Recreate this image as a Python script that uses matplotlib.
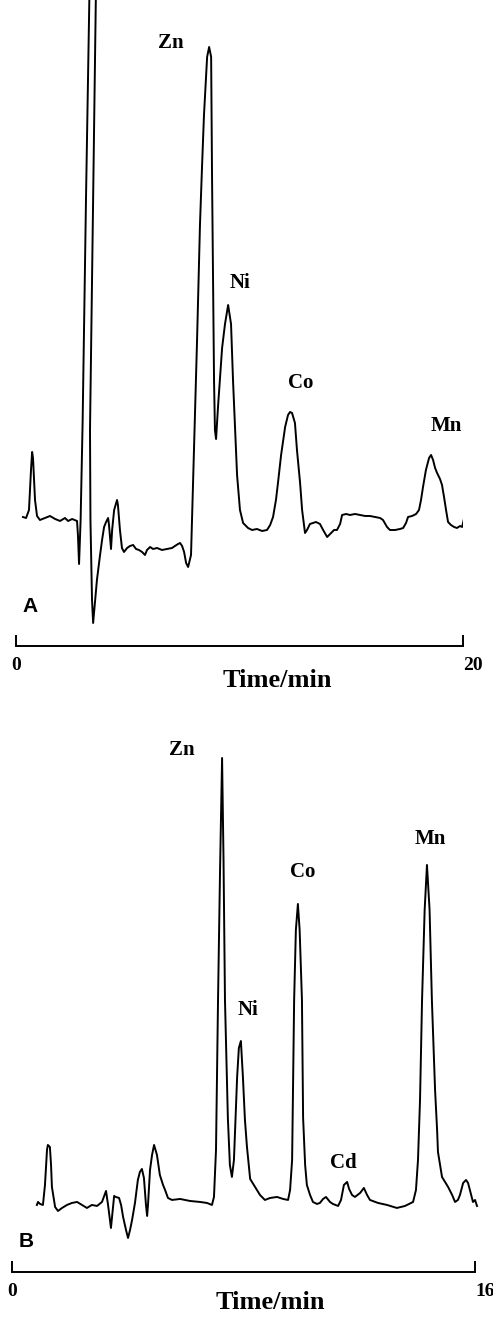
# Two ion chromatograms (A: 0-20 min, B: 0-16 min) with a time scale bar under each.
import matplotlib.pyplot as plt

plt.rcParams['font.family'] = ['Liberation Serif', 'DejaVu Serif']

# ---- chromatogram A: time (min) and detector response (arb. units)
time_a = [0.31, 0.45, 0.58, 0.67, 0.72, 0.76, 0.85, 0.94, 1.07, 1.30, 1.52, 1.75, 1.97,
          2.19, 2.33, 2.51, 2.73, 2.77, 2.82, 2.89, 2.98, 3.13, 3.28, 3.42, 3.57, 3.45,
          3.36, 3.31, 3.33, 3.40, 3.45, 3.54, 3.62, 3.76, 3.85, 3.94, 4.03, 4.12, 4.16,
          4.25, 4.30, 4.39, 4.52, 4.56, 4.65, 4.74, 4.83, 4.97, 5.10, 5.24, 5.37, 5.50,
          5.64, 5.77, 5.86, 6.00, 6.13, 6.31, 6.53, 6.76, 6.98, 7.11, 7.25, 7.34, 7.43,
          7.52, 7.61, 7.70, 7.83, 7.92, 8.10, 8.23, 8.32, 8.41, 8.55, 8.64, 8.73, 8.77,
          8.86, 8.90, 8.95, 9.04, 9.22, 9.35, 9.49, 9.62, 9.71, 9.89, 10.02, 10.16, 10.38,
          10.56, 10.78, 11.01, 11.23, 11.37, 11.50, 11.63, 11.72, 11.86, 12.04, 12.17,
          12.26, 12.35, 12.48, 12.57, 12.71, 12.80, 12.93, 13.02, 13.15, 13.29, 13.42,
          13.60, 13.74, 13.92, 14.05, 14.23, 14.36, 14.50, 14.59, 14.77, 14.94, 15.17,
          15.39, 15.62, 15.84, 16.06, 16.29, 16.42, 16.60, 16.73, 16.96, 17.18, 17.32,
          17.45, 17.54, 17.72, 17.90, 18.03, 18.12, 18.21, 18.34, 18.48, 18.57, 18.66,
          18.75, 18.84, 18.97, 19.06, 19.15, 19.24, 19.33, 19.46, 19.60, 19.73, 19.87,
          19.96, 20.04]
signal_a = [10, 9, 17, 57, 75, 69, 27, 11, 7, 9, 11, 8, 6,
            9, 6, 8, 6, -8, -37, 7, 105, 327, 527, 777, 527, 327,
            177, 97, 7, -73, -96, -73, -53, -28, -13, 0, 5, 9, 2,
            -22, -3, 17, 27, 22, -3, -21, -25, -21, -19, -18, -22, -23,
            -25, -28, -23, -20, -22, -21, -23, -22, -21, -19, -17, -16, -19,
            -25, -36, -40, -28, 43, 187, 302, 359, 412, 470, 480, 470, 351,
            146, 97, 88, 121, 179, 203, 222, 203, 146, 52, 17, 4, -1,
            -3, -2, -4, -3, 2, 10, 27, 44, 72, 100, 112,
            115, 114, 104, 77, 44, 17, -6, -3, 3, 4, 5,
            3, -3, -10, -7, -3, -3, 3, 12, 13, 12, 13,
            12, 11, 11, 10, 9, 7, 0, -3, -3, -2, -1,
            4, 10, 11, 13, 17, 27, 40, 57, 69, 72, 67,
            59, 54, 48, 42, 30, 17, 5, 2, 0, -1, 1,
            0, 8]

# ---- chromatogram B
time_b = [0.86, 0.90, 0.97, 1.07, 1.14, 1.21, 1.24, 1.31, 1.35, 1.38, 1.45, 1.49, 1.59,
          1.73, 1.90, 2.07, 2.25, 2.42, 2.59, 2.76, 2.94, 3.11, 3.25, 3.32, 3.42, 3.53,
          3.59, 3.70, 3.77, 3.84, 3.94, 4.01, 4.08, 4.15, 4.25, 4.35, 4.42, 4.49, 4.56,
          4.63, 4.67, 4.70, 4.77, 4.84, 4.91, 4.94, 5.01, 5.11, 5.22, 5.29, 5.39, 5.53,
          5.81, 6.15, 6.50, 6.74, 6.91, 6.98, 7.05, 7.12, 7.19, 7.26, 7.31, 7.36, 7.46,
          7.53, 7.60, 7.67, 7.78, 7.84, 7.91, 7.98, 8.05, 8.12, 8.23, 8.40, 8.57, 8.74,
          8.92, 9.16, 9.37, 9.54, 9.61, 9.68, 9.75, 9.81, 9.88, 9.94, 10.02, 10.06, 10.13,
          10.19, 10.30, 10.40, 10.54, 10.64, 10.75, 10.85, 10.99, 11.09, 11.27, 11.37,
          11.47, 11.58, 11.65, 11.75, 11.85, 12.03, 12.16, 12.27, 12.37, 12.65, 12.96,
          13.30, 13.58, 13.86, 13.96, 14.03, 14.10, 14.17, 14.26, 14.34, 14.43, 14.51,
          14.62, 14.69, 14.72, 14.86, 15.07, 15.21, 15.31, 15.41, 15.48, 15.59, 15.69,
          15.76, 15.83, 15.93, 16.00, 16.07]
signal_b = [-2, 1, -1, -2, 18, 53, 58, 56, 38, 16, 3, -4, -8,
            -5, -2, 0, 1, -2, -5, -2, -3, 1, 12, -2, -25, 7,
            6, 5, -2, -14, -27, -35, -27, -17, 0, 23, 31, 34, 25,
            -2, -13, -2, 33, 48, 58, 55, 48, 28, 18, 13, 5, 3,
            4, 2, 1, 0, -2, 6, 53, 203, 333, 445, 343, 203, 85,
            38, 26, 43, 126, 155, 162, 126, 83, 56, 24, 16, 8, 3,
            5, 6, 4, 3, 13, 43, 203, 273, 299, 273, 203, 85, 38,
            18, 8, 1, -1, 0, 4, 6, 1, -1, -3, 3,
            18, 21, 14, 8, 6, 10, 15, 8, 3, 0, -2,
            -5, -3, 1, 13, 43, 103, 203, 293, 338, 293, 203,
            113, 73, 51, 26, 16, 8, 1, 3, 8, 20, 23,
            20, 12, 1, 3, -3]

# ---- peak labels
labels_a = ['Zn', 'Ni', 'Co', 'Mn']
label_time_a = [6.94, 10.02, 12.75, 19.24]
label_signal_a = [484, 244, 144, 101]

labels_b = ['Zn', 'Ni', 'Co', 'Cd', 'Mn']
label_time_b = [5.88, 8.16, 10.06, 11.44, 14.45]
label_signal_b = [453, 193, 331, 40, 364]

fig = plt.figure(figsize=(4.93, 13.17), dpi=100)
ax_a = fig.add_axes([0.0325, 0.5095, 0.9067, 0.4905])
ax_b = fig.add_axes([0.0243, 0.0342, 0.9392, 0.4343])


def style_panel(ax, t_end, ylim, tag, tag_pos, label_x):
    ax.set_xlim(0, t_end)
    ax.set_ylim(*ylim)
    for side in ['top', 'right', 'left']:
        ax.spines[side].set_visible(False)
    ax.spines['bottom'].set_linewidth(1.4)
    ax.set_yticks([])
    ax.set_xticks([0, t_end], labels=['0', str(t_end)])
    ax.tick_params(axis='x', direction='in', length=8, width=1.4, pad=8, labelsize=14)
    for lbl in ax.get_xticklabels():
        lbl.set_fontweight('bold')
    ax.get_xticklabels()[1].set_ha('left')
    ax.set_xlabel('Time/min', fontsize=19, fontweight='bold')
    ax.xaxis.set_label_coords(label_x, -0.054)
    ax.xaxis.label.set_va('center')
    ax.text(tag_pos[0], tag_pos[1], tag, family=['Liberation Sans', 'DejaVu Sans'],
            fontweight='bold', fontsize=15, ha='center', va='center')
    ax.patch.set_alpha(0)


# panel A
ax_a.plot(time_a, signal_a, color='black', lw=1.4, clip_on=True)
for name, t, s in zip(labels_a, label_time_a, label_signal_a):
    ax_a.text(t, s, name, fontsize=15, fontweight='bold', ha='center', va='center')
style_panel(ax_a, 20, (-119, 527), 'A', (0.63, -80), 0.584)

# panel B
ax_b.plot(time_b, signal_b, color='black', lw=1.4, clip_on=False)
for name, t, s in zip(labels_b, label_time_b, label_signal_b):
    ax_b.text(t, s, name, fontsize=15, fontweight='bold', ha='center', va='center')
style_panel(ax_b, 16, (-69, 503), 'B', (0.48, -39), 0.559)

fig.savefig('out.png', dpi=100)
